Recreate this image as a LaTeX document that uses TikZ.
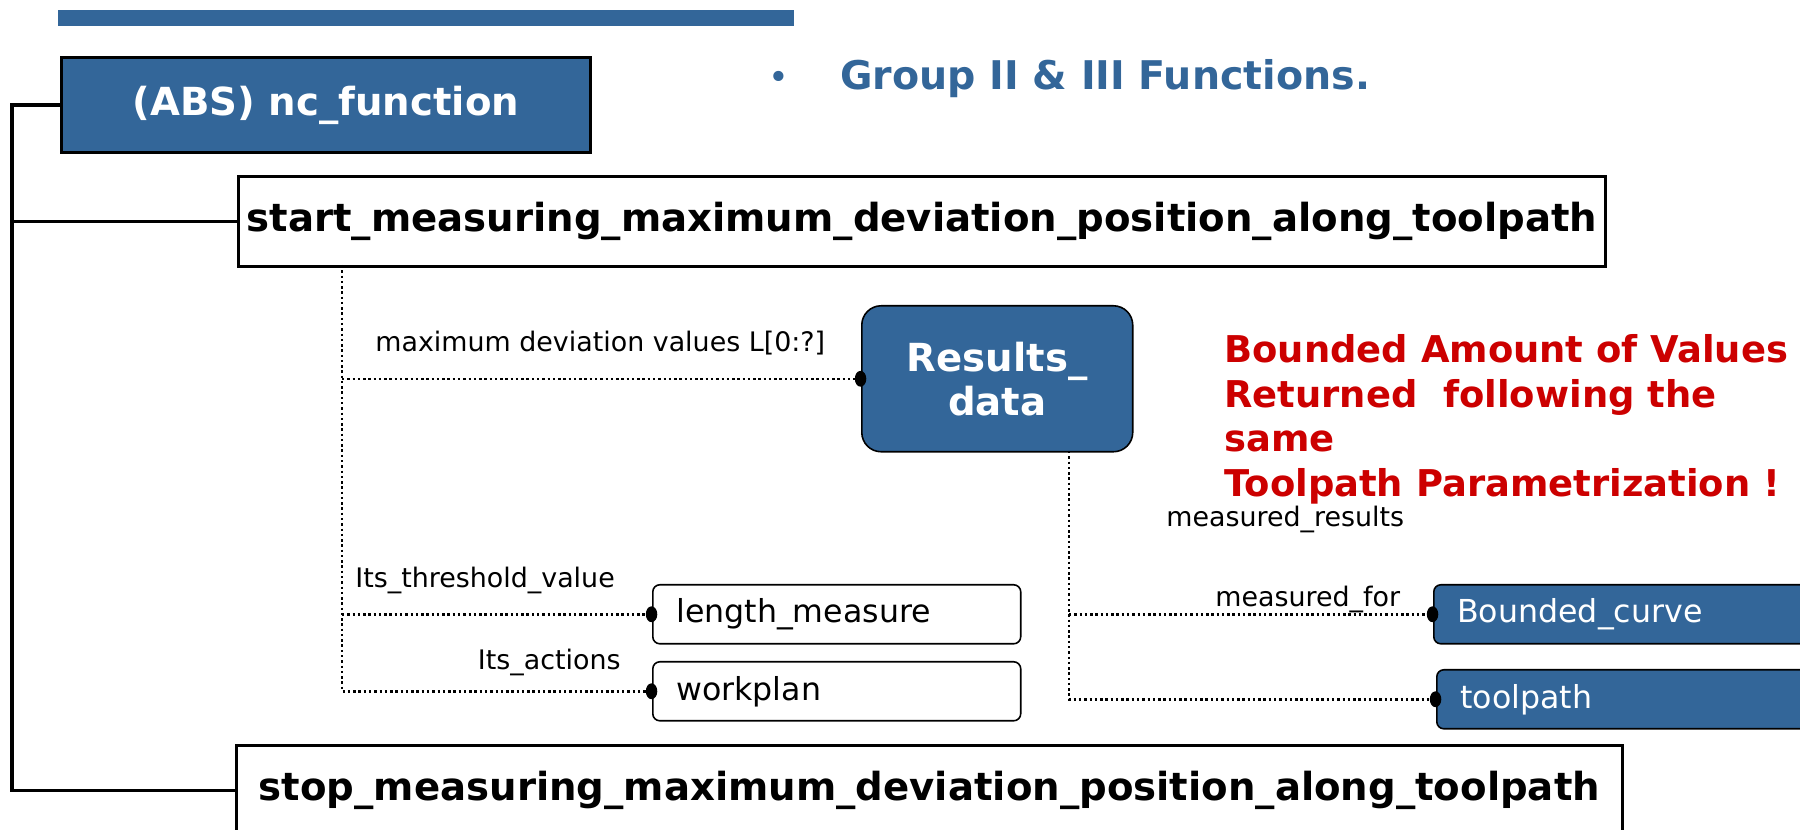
\documentclass[tikz,border=0pt]{standalone}
\usepackage{fontspec}
\setmainfont{DejaVu Sans}
\usetikzlibrary{arrows.meta}
\definecolor{stepblue}{HTML}{336699}
\definecolor{notered}{HTML}{CC0000}
\tikzset{
  funcbox/.style={draw, line width=1.8pt, fill=white, inner sep=0pt, anchor=north west,
    font=\fontsize{22}{26}\selectfont\bfseries},
  entbox/.style={draw, line width=0.9pt, rounded corners=4pt, anchor=north west, align=left,
    minimum height=1.18cm, inner xsep=0.47cm, font=\fontsize{18}{21}\selectfont},
  link/.style={line width=1.4pt, dash pattern=on 1.4pt off 1.6pt, -{Circle[length=6.5pt,width=9pt]}, shorten >=-3pt},
  tree/.style={line width=2pt, line join=miter},
  lbl/.style={inner sep=0pt, font=\fontsize{15.3}{18}\selectfont}
}
\begin{document}
\begin{tikzpicture}[x=0.02cm, y=-0.02cm]
\useasboundingbox (0,0) rectangle (1800,830);
\clip (0,0) rectangle (1800,830);
\fill[stepblue] (58,10) rectangle (794,26);

\node[funcbox, fill=stepblue, text=white, minimum width=10.58cm, minimum height=1.9cm] (abs) at (60,56) {(ABS) nc\_function};
\node[funcbox, minimum width=27.34cm, minimum height=1.8cm] (start) at (237,175) {start\_measuring\_maximum\_deviation\_position\_along\_toolpath};
\node[funcbox, minimum width=27.72cm, minimum height=1.8cm] (stop) at (235,744) {stop\_measuring\_maximum\_deviation\_position\_along\_toolpath};

\node[text=stepblue, anchor=base, font=\fontsize{20}{24}\selectfont] (bul) at (779,90) {•};
\node[text=stepblue, anchor=base west, inner sep=0pt, font=\fontsize{22.5}{26}\selectfont\bfseries] (grp) at (840,90) {Group II \& III Functions.};

\node[draw, fill=stepblue, text=white, line width=0.9pt, rounded corners=11pt, anchor=north west, align=center,
  minimum width=5.42cm, minimum height=2.92cm, font=\fontsize{22}{25}\selectfont\bfseries] (results) at (861,305) {Results\_\\data};
\node[entbox, text width=6.42cm] (length) at (652,584) {length\_measure};
\node[entbox, text width=6.42cm] (workplan) at (652,661) {workplan};
\node[entbox, fill=stepblue, text=white, text width=7.6cm] (bounded) at (1433,584) {Bounded\_curve};
\node[entbox, fill=stepblue, text=white, text width=7.6cm] (toolpath) at (1436,669) {toolpath};

\node[text=notered, anchor=north west, align=left, inner sep=0pt, font=\fontsize{21}{25.5}\selectfont\bfseries] (note) at (1224,334)
  {Bounded Amount of Values\\Returned~ following the\\same\\Toolpath Parametrization !};

% tree of functions
\draw[tree] (abs.west) -- ++(-48,0) coordinate (trunk) |- (stop.west);
\draw[tree] (trunk |- start.west) -- (start.west);

% attributes
\coordinate (sp) at (342,265);
\draw[link] (sp) |- (workplan.west);
\draw[link] (sp |- results.west) -- (results.west);
\draw[link] (sp |- length.west) -- (length.west);
\coordinate (rs) at (1069,451);
\draw[link] (rs) |- (toolpath.west);
\draw[link] (rs |- bounded.west) -- (bounded.west);

\node[lbl, anchor=base west] (lmax) at (375,352) {maximum deviation values L[0:?]};
\node[lbl, anchor=base west] (lthr) at (355,588) {Its\_threshold\_value};
\node[lbl, anchor=base east] (lact) at (621,670) {Its\_actions};
\node[lbl, anchor=base west] (lres) at (1166,527) {measured\_results};
\node[lbl, anchor=base west] (lfor) at (1215,607) {measured\_for};
\end{tikzpicture}
\end{document}
